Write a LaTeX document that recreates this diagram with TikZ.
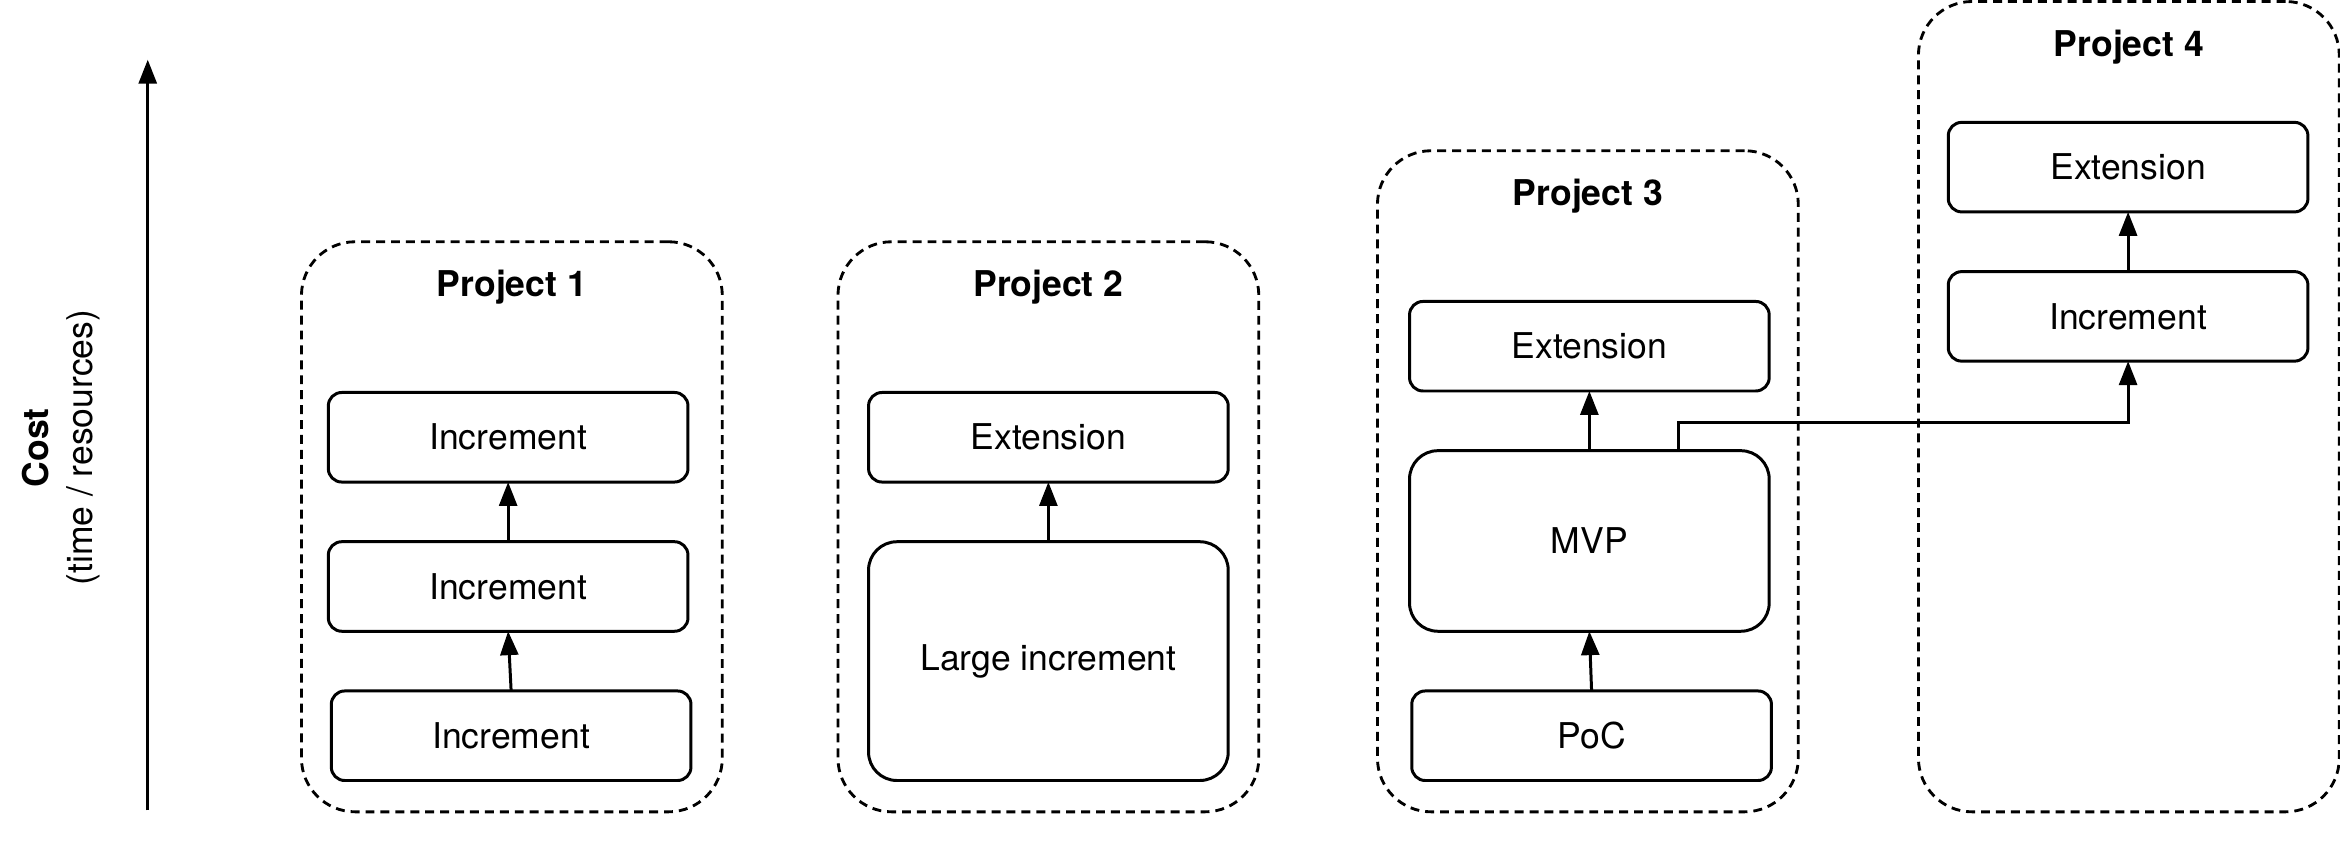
\documentclass[tikz,border=0pt]{standalone}
\usepackage{fontspec}
\setmainfont{TeX Gyre Heros}
\usepackage{tikz}
\usetikzlibrary{positioning}
\usetikzlibrary{arrows.meta}
\newcommand{\diagfont}{\fontsize{23.8}{30}\selectfont}
\tikzset{
  project/.style={draw, line width=1.9pt, dash pattern=on 6pt off 4pt, rounded corners=36pt, minimum width=282pt, inner sep=0pt, outer sep=0pt},
  ptitle/.style={anchor=base, font=\diagfont\bfseries},
  stage/.style={draw, fill=white, line width=2pt, rounded corners=9pt, minimum width=241pt, minimum height=60pt, inner sep=0pt, outer sep=0pt},
  bigstage/.style={stage, rounded corners=19pt},
  link/.style={->, line width=2pt}
}

\begin{document}
\begin{tikzpicture}[x=1pt, y=1pt, >={Triangle[length=16pt,width=12pt]}, font=\diagfont, node distance=40pt]
\useasboundingbox (0,0) rectangle (1568,563);
% cost axis
\coordinate (axisbot) at (99,20);
\coordinate (axistop) at (99,523);
\draw[->, line width=2pt] (axisbot) -- (axistop);
\node[rotate=90, align=center] (cost) at (41,263) {\textbf{Cost}\\(time / resources)};

% project frames
\node[project, minimum height=382pt] (p1) at (343,210) {};
\node[project, minimum height=382pt] (p2) at (702.5,210) {};
\node[project, minimum height=443pt] (p3) at (1064,240.5) {};
\node[project, minimum height=543pt] (p4) at (1426.5,290.5) {};
\foreach \p in {1,...,4} {
\node[ptitle] (title\p) at ([yshift=-37pt]p\p.north) {Project \p};
}

% Project 1
\node[stage] (inc1a) at (342.5,70) {Increment};
\node[stage, above=of inc1a, xshift=-2pt] (inc1b) {Increment};
\node[stage, above=of inc1b] (inc1c) {Increment};
\draw[link] (inc1a.north) -- (inc1b.south);
\draw[link] (inc1b.north) -- (inc1c.south);

% Project 2
\node[bigstage, minimum height=160pt] (large2) at (702.5,120) {Large increment};
\node[stage, above=of large2] (ext2) {Extension};
\draw[link] (large2.north) -- (ext2.south);

% Project 3
\node[stage] (poc3) at (1066.5,70) {PoC};
\node[bigstage, minimum height=121pt, above=of poc3, xshift=-1.5pt] (mvp3) {MVP};
\node[stage, above=of mvp3] (ext3) {Extension};
\draw[link] (poc3.north) -- (mvp3.south);
\draw[link] (mvp3.north) -- (ext3.south);

% Project 4
\node[stage] (inc4) at (1426,351) {Increment};
\node[stage, above=of inc4] (ext4) {Extension};
\draw[link] (inc4.north) -- (ext4.south);

% MVP feeds project 4
\draw[link] ([xshift=60pt]mvp3.north) -- ++(0,19pt) -| (inc4.south);
\end{tikzpicture}
\end{document}
